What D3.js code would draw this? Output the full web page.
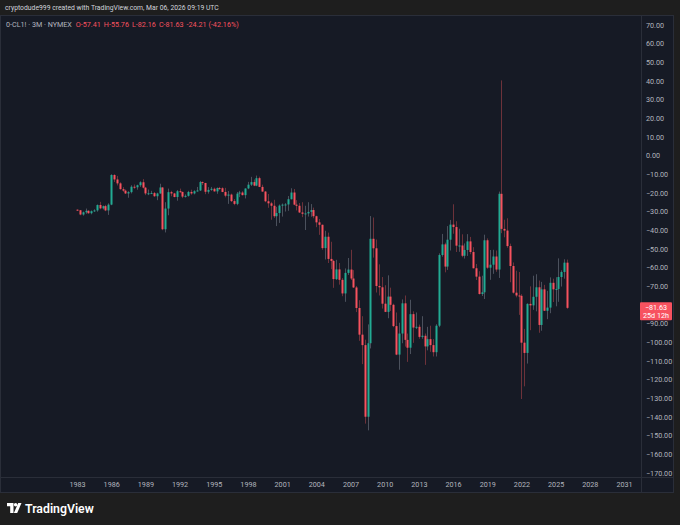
<!DOCTYPE html>
<html><head><meta charset="utf-8">
<script src="https://cdn.jsdelivr.net/npm/d3@7"></script>
<style>
html,body{margin:0;padding:0;background:#1e1e1e;}
svg{display:block;font-family:Roboto,"Liberation Sans",sans-serif;}
</style></head><body><svg id="c" width="680" height="525"></svg>
<script>
// ---- data (0-CL1!, NYMEX, 3M candles, first bar 1983 Q1) ----
const firstYear = 1983;
const yearTicks = [1983,1986,1989,1992,1995,1998,2001,2004,2007,2010,2013,2016,2019,2022,2025,2028,2031];
// -80.00 is hidden behind the last-price label in the reference
const priceTicks = [70,60,50,40,30,20,10,0,-10,-20,-30,-40,-50,-60,-70,-90,-100,-110,-120,-130,-140,-150,-160,-170];

const openVals = [
-29.0,-29.3,-31.6,-30.4,-29.6,-30.9,-29.8,-29.4,-26.5,-28.3,
-27.1,-29.4,-26.3,-10.4,-12.8,-14.9,-18.0,-18.8,-20.3,-19.6,
-16.7,-17.0,-15.9,-14.3,-17.2,-20.3,-20.2,-20.1,-21.8,-20.3,
-17.1,-39.5,-28.4,-19.6,-20.3,-22.2,-19.1,-19.5,-22.0,-21.6,
-19.5,-20.3,-19.1,-18.7,-14.2,-14.7,-19.4,-18.4,-17.8,-19.2,
-17.4,-17.5,-19.5,-21.5,-20.9,-24.4,-25.9,-20.4,-19.8,-21.2,
-17.6,-15.6,-14.2,-16.1,-12.1,-16.8,-19.3,-24.5,-25.6,-26.9,
-32.5,-30.8,-26.8,-26.3,-26.2,-23.4,-19.8,-26.3,-26.9,-30.5,
-31.2,-31.0,-30.2,-29.2,-32.5,-35.8,-37.1,-49.6,-43.5,-55.4,
-56.5,-66.2,-61.0,-66.6,-73.9,-62.9,-61.1,-65.9,-70.7,-81.7,
-96.0,-101.6,-140.0,-100.6,-44.6,-49.7,-69.9,-70.6,-79.4,-83.8,
-75.6,-80.0,-91.4,-106.7,-95.4,-79.2,-98.8,-103.0,-85.0,-92.2,
-91.8,-97.2,-96.6,-102.3,-98.4,-101.6,-105.4,-91.2,-53.3,-47.6,
-59.5,-45.1,-37.0,-38.3,-48.3,-48.2,-53.7,-50.6,-46.0,-51.7,
-60.4,-64.9,-74.2,-73.3,-45.4,-60.1,-58.5,-54.1,-61.1,-20.5,
-39.3,-40.2,-48.5,-59.2,-73.5,-75.0,-75.2,-100.3,-105.8,-79.5,
-80.3,-75.7,-70.6,-90.8,-71.7,-83.2,-81.5,-68.2,-71.7,-71.5,
-65.1,-62.4,-57.41];

const highVals = [
-28.9,-29.2,-30.0,-28.4,-29.3,-29.4,-28.8,-26.2,-24.8,-26.8,
-26.4,-25.6,-10.0,-10.0,-10.9,-14.3,-16.9,-18.2,-19.1,-15.9,
-15.5,-15.6,-13.8,-12.6,-16.8,-18.2,-18.9,-19.5,-19.9,-15.1,
-16.9,-25.0,-17.7,-18.9,-20.0,-18.5,-17.7,-19.3,-20.8,-18.9,
-18.3,-18.6,-16.8,-13.6,-13.9,-14.6,-16.9,-16.8,-17.2,-17.1,
-16.8,-17.0,-17.3,-19.0,-20.4,-23.3,-19.5,-18.9,-19.1,-17.6,
-14.1,-11.4,-12.8,-10.7,-11.3,-15.6,-19.0,-20.6,-24.8,-23.7,
-27.5,-26.2,-25.7,-25.5,-21.7,-17.5,-17.9,-23.9,-25.4,-25.0,
-26.9,-25.0,-26.0,-27.9,-32.2,-34.0,-37.0,-40.3,-41.3,-46.2,
-55.9,-55.9,-57.6,-65.6,-60.5,-54.9,-50.5,-61.4,-69.9,-77.5,
-86.1,-98.7,-90.5,-32.4,-33.2,-45.0,-58.3,-65.1,-69.5,-64.2,
-70.8,-79.4,-84.1,-89.6,-77.1,-75.0,-95.4,-77.3,-83.5,-84.1,
-90.6,-86.1,-95.4,-91.8,-91.2,-98.4,-90.4,-52.4,-42.0,-46.7,
-37.8,-34.5,-26.1,-35.2,-39.2,-42.2,-47.1,-42.1,-43.6,-49.1,
-58.1,-62.0,-64.4,-42.4,-44.4,-50.6,-50.5,-50.9,-19.3,40.3,
-34.4,-33.6,-47.2,-57.3,-61.7,-62.4,-74.3,-92.9,-79.2,-70.1,
-64.4,-63.6,-67.0,-67.7,-69.3,-72.5,-65.3,-66.0,-65.2,-55.1,
-61.5,-55.6,-55.76];

const lowVals = [
-29.6,-32.0,-32.2,-31.2,-31.2,-31.5,-30.2,-30.1,-28.8,-28.9,
-29.8,-31.8,-26.6,-14.2,-16.0,-18.3,-19.4,-20.6,-22.6,-20.3,
-17.8,-18.3,-16.8,-17.6,-21.2,-21.2,-20.6,-22.1,-23.9,-20.5,
-40.0,-41.2,-32.0,-21.8,-22.4,-24.2,-19.9,-22.8,-22.5,-22.0,
-21.0,-20.8,-19.3,-19.0,-15.8,-20.7,-20.4,-18.9,-19.3,-20.5,
-18.4,-19.6,-22.4,-25.9,-24.9,-26.6,-26.6,-22.3,-21.4,-23.0,
-18.0,-16.3,-16.4,-16.4,-16.9,-19.4,-25.0,-28.0,-34.4,-33.4,
-37.8,-36.1,-32.7,-30.0,-29.6,-23.5,-26.6,-29.4,-30.8,-33.0,
-39.9,-32.7,-32.8,-33.6,-38.4,-42.5,-50.5,-55.7,-57.6,-60.9,
-70.9,-66.7,-69.2,-75.4,-78.4,-64.0,-66.7,-71.0,-83.9,-99.3,
-111.8,-143.7,-147.3,-103.4,-54.7,-73.4,-75.0,-82.0,-83.9,-87.2,
-83.3,-92.0,-107.0,-114.8,-100.6,-102.4,-110.6,-106.4,-100.4,-93.0,
-98.2,-98.2,-112.2,-104.4,-105.2,-107.7,-107.7,-92.0,-54.2,-62.6,
-61.3,-50.9,-41.9,-51.7,-51.6,-54.5,-55.2,-53.8,-52.9,-60.5,
-66.7,-74.5,-75.3,-76.9,-60.7,-66.6,-63.4,-62.3,-65.6,-41.6,
-43.8,-49.4,-67.9,-74.0,-76.0,-85.4,-130.5,-123.7,-111.5,-93.6,
-82.7,-83.5,-95.0,-93.9,-83.3,-87.7,-84.5,-78.5,-80.8,-78.4,
-70.2,-66.0,-82.16];

const closeVals = [
-29.3,-31.6,-30.4,-29.6,-30.9,-29.8,-29.4,-26.5,-28.3,-27.1,
-29.4,-26.3,-10.4,-12.8,-14.9,-18.0,-18.8,-20.3,-19.6,-16.7,
-17.0,-15.9,-14.3,-17.2,-20.3,-20.2,-20.1,-21.8,-20.3,-17.1,
-39.5,-28.4,-19.6,-20.3,-22.2,-19.1,-19.5,-22.0,-21.6,-19.5,
-20.3,-19.1,-18.7,-14.2,-14.7,-19.4,-18.4,-17.8,-19.2,-17.4,
-17.5,-19.5,-21.5,-20.9,-24.4,-25.9,-20.4,-19.8,-21.2,-17.65,
-15.6,-14.2,-16.1,-12.1,-16.8,-19.3,-24.5,-25.6,-26.9,-32.5,
-30.8,-26.8,-26.3,-26.2,-23.4,-19.8,-26.3,-26.9,-30.5,-31.2,
-31.0,-30.2,-29.2,-32.5,-35.8,-37.1,-49.6,-43.5,-55.4,-56.5,
-66.2,-61.0,-66.6,-73.9,-62.9,-61.1,-65.9,-70.7,-81.7,-96.0,
-101.6,-140.0,-100.6,-44.6,-49.7,-69.9,-70.6,-79.4,-83.8,-75.6,
-80.0,-91.4,-106.7,-95.4,-79.2,-98.8,-103.0,-85.0,-92.2,-91.8,
-97.2,-96.6,-102.3,-98.4,-101.6,-105.4,-91.2,-53.3,-47.6,-59.5,
-45.1,-37.0,-38.3,-48.3,-48.2,-53.7,-50.6,-46.0,-51.7,-60.4,
-64.9,-74.2,-73.3,-45.4,-60.1,-58.5,-54.1,-61.1,-20.5,-39.3,
-40.2,-48.5,-59.2,-73.5,-75.0,-75.2,-100.3,-105.8,-79.5,-80.3,
-75.7,-70.6,-90.8,-71.7,-83.2,-81.5,-68.2,-71.7,-71.5,-65.1,
-62.4,-57.4,-81.63];

const headerText = "cryptodude999 created with TradingView.com, Mar 06, 2026 09:19 UTC";
const symbolText = "0-CL1! · 3M · NYMEX";
const legendItems = ["O-57.41","H-55.76","L-82.16","C-81.63","-24.21 (-42.16%)"];
const lastLabel = ["\u221281.63","25d 12h"];

// ---- styles ----
const UP = "#22ab94", DOWN = "#f7525f";
const PANE_BG = "#161a25", OUTER = "#1e1e1e", LINE = "#2a2e39", TXT = "#b2b5be";

const svg = d3.select("#c");
svg.append("rect").attr("width",680).attr("height",525).attr("fill",OUTER);
svg.append("rect").attr("x",0.5).attr("y",15.5).attr("width",673).attr("height",477)
  .attr("fill",PANE_BG).attr("stroke",LINE);

const x = d3.scaleLinear().domain([1983, 2031]).range([77, 624]);
const y = d3.scaleLinear().domain([70, -170]).range([25, 472.7]);

const bars = openVals.map((o,i)=>({t:firstYear + i/4, o, h:highVals[i], l:lowVals[i], c:closeVals[i]}));

const plot = svg.append("g");
// wicks
plot.selectAll("line.w").data(bars).join("line")
  .attr("x1",d=>Math.round(x(d.t))+0.5).attr("x2",d=>Math.round(x(d.t))+0.5)
  .attr("y1",d=>y(d.h)).attr("y2",d=>y(d.l))
  .attr("stroke",d=>d.c>=d.o ? "#5d6470" : "#8a3a42").attr("stroke-width",1).attr("opacity",0.75);
// bodies
plot.selectAll("rect.b").data(bars).join("rect")
  .attr("x",d=>Math.round(x(d.t))-0.5).attr("width",2)
  .attr("y",d=>y(Math.max(d.o,d.c)))
  .attr("height",d=>Math.max(1, y(Math.min(d.o,d.c))-y(Math.max(d.o,d.c))))
  .attr("fill",d=>d.c>=d.o ? UP : DOWN);

// axes separators
svg.append("line").attr("x1",641.5).attr("x2",641.5).attr("y1",15).attr("y2",493).attr("stroke",LINE);
svg.append("line").attr("x1",0).attr("x2",674).attr("y1",477.5).attr("y2",477.5).attr("stroke",LINE);

// price axis
const yAxis = d3.axisRight(y).tickValues(priceTicks).tickSize(0).tickPadding(0)
  .tickFormat(v => (v<0?"\u2212":"") + Math.abs(v).toFixed(2));
const yg = svg.append("g").attr("transform","translate(646,0)").call(yAxis);
yg.select(".domain").remove();
yg.selectAll("text").attr("fill",TXT).attr("font-size",7.2).attr("font-family","Roboto, sans-serif");

// time axis
const xAxis = d3.axisBottom(x).tickValues(yearTicks).tickSize(0).tickPadding(0).tickFormat(d=>String(d));
const xg = svg.append("g").attr("transform","translate(0,482)").call(xAxis);
xg.select(".domain").remove();
xg.selectAll("text").attr("fill",TXT).attr("font-size",7.2).attr("font-family","Roboto, sans-serif");

// last price label
const ly = y(closeVals[closeVals.length-1]);
svg.append("rect").attr("x",640).attr("y",ly-5.5).attr("width",32).attr("height",18).attr("fill",DOWN).attr("rx",1);
svg.append("text").attr("x",656).attr("y",ly+2.5).attr("text-anchor","middle").attr("fill","#fff")
  .attr("font-size",7.2).text(lastLabel[0]);
svg.append("text").attr("x",656).attr("y",ly+10.5).attr("text-anchor","middle").attr("fill","#fff")
  .attr("font-size",7.2).text(lastLabel[1]);

// header
svg.append("text").attr("x",5).attr("y",10).attr("fill","#d1d4dc").attr("font-size",6.8).text(headerText);

// legend
const lg = svg.append("text").attr("x",6).attr("y",26.5).attr("font-size",7.2);
lg.append("tspan").attr("fill",TXT).text(symbolText);
legendItems.forEach((s,i)=>{
  lg.append("tspan").attr("dx", i===0?4:3).attr("fill",DOWN).text(s);
});

// footer logo
const logo = svg.append("g").attr("transform","translate(7,503)");
logo.append("path").attr("d","M0 0 H6.5 V10 H3.2 V3.2 H0 Z").attr("fill","#fff");
logo.append("circle").attr("cx",8.6).attr("cy",1.7).attr("r",1.7).attr("fill","#fff");
logo.append("path").attr("d","M11.2 0 H14.5 L10.2 10 H6.9 Z").attr("fill","#fff");
svg.append("text").attr("x",25).attr("y",513).attr("fill","#fff").attr("font-size",12.3)
  .attr("font-weight",600).attr("font-family","Roboto, sans-serif").text("TradingView");
</script></body></html>
